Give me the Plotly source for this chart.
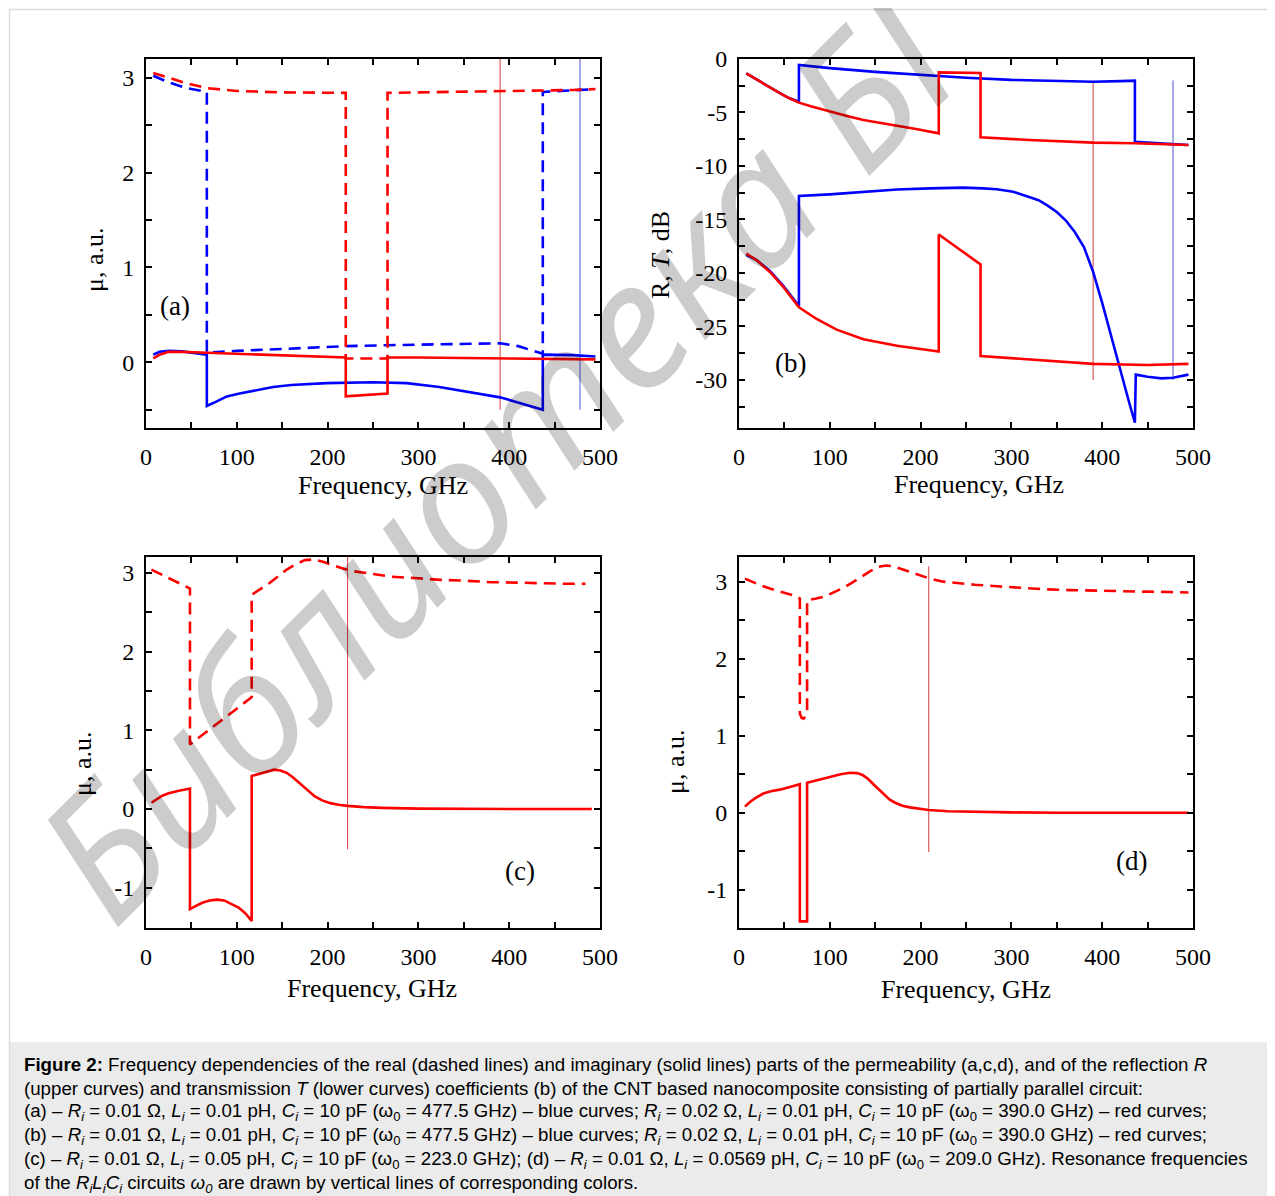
import plotly.graph_objects as go

# The page body keeps a default 8 px margin, so the figure is sized to fill the
# window after it and every position below is given in window pixels.
OFF = 8
W, H = 1275 - OFF, 1196 - OFF

# ---------------- data ----------------
freq_ticks = [0, 100, 200, 300, 400, 500]

# (a) permeability, blue (w0 = 477.5 GHz) and red (w0 = 390 GHz)
a_blue_re_x = [8, 25, 45, 67, 67, 100, 150, 220, 266, 320, 360, 390, 410, 425, 437, 437, 460, 480, 495]
a_blue_re_y = [3.02, 2.95, 2.89, 2.85, 0.10, 0.12, 0.14, 0.17, 0.18, 0.19, 0.20, 0.20, 0.17, 0.13, 0.09, 2.85, 2.86, 2.87, 2.88]
a_red_re_x = [8, 25, 45, 67, 100, 150, 220, 220, 266, 266, 300, 350, 400, 437, 470, 495]
a_red_re_y = [3.05, 3.00, 2.94, 2.89, 2.86, 2.845, 2.84, 0.04, 0.04, 2.84, 2.845, 2.85, 2.855, 2.86, 2.87, 2.88]
a_blue_im_x = [8, 15, 25, 40, 67, 67, 74, 80, 89, 103, 120, 140, 160, 177, 199, 250, 287, 323, 360, 390, 437, 437, 470, 495]
a_blue_im_y = [0.08, 0.11, 0.12, 0.115, 0.08, -0.46, -0.43, -0.40, -0.36, -0.33, -0.295, -0.26, -0.24, -0.23, -0.22, -0.21, -0.22, -0.26, -0.32, -0.37, -0.50, 0.08, 0.075, 0.06]
a_red_im_x = [8, 15, 25, 40, 67, 100, 150, 220, 220, 266, 266, 300, 400, 495]
a_red_im_y = [0.04, 0.08, 0.11, 0.11, 0.10, 0.09, 0.075, 0.05, -0.36, -0.33, 0.05, 0.05, 0.04, 0.03]
a_w0_red = 390.0
a_w0_blue = 478.0
a_vline_y = [3.2, -0.5]

# (b) reflection R (upper) and transmission T (lower), dB
b_blue_R_x = [8, 15, 26.6, 35, 45, 55, 66, 66, 100, 150, 200, 250, 300, 350, 390, 420, 436, 436, 460, 495]
b_blue_R_y = [-1.34, -1.7, -2.27, -2.7, -3.2, -3.65, -4.0, -0.56, -0.85, -1.2, -1.5, -1.75, -1.95, -2.08, -2.12, -2.07, -2.02, -7.75, -7.85, -8.04]
b_red_R_x = [8, 15, 26.6, 35, 45, 55, 66, 80, 100, 120, 137, 155, 174, 195, 220, 220, 266, 266, 320, 390, 436, 495]
b_red_R_y = [-1.34, -1.7, -2.27, -2.7, -3.2, -3.65, -4.08, -4.45, -4.92, -5.35, -5.7, -5.95, -6.26, -6.55, -6.95, -1.25, -1.31, -7.32, -7.57, -7.82, -7.88, -8.04]
b_blue_T_x = [8, 19.4, 34, 48.8, 66, 66, 100, 137, 174, 210, 247, 269, 284, 302, 320, 330, 340, 350, 360, 370, 380, 390, 400, 410, 420, 430, 436, 437, 450, 465, 478, 495]
b_blue_T_y = [-18.3, -18.8, -19.8, -21.2, -23.1, -12.8, -12.65, -12.4, -12.2, -12.09, -12.02, -12.09, -12.18, -12.4, -12.87, -13.2, -13.7, -14.3, -15.1, -16.2, -17.6, -19.9, -22.8, -26.0, -29.2, -32.2, -34.0, -29.5, -29.7, -29.85, -29.8, -29.5]
b_red_T_x = [8, 19.4, 34, 48.8, 66, 85.5, 107.5, 137, 174, 220, 220, 266, 266, 320, 390, 450, 495]
b_red_T_y = [-18.2, -18.8, -19.9, -21.3, -23.2, -24.3, -25.3, -26.2, -26.8, -27.35, -16.4, -19.2, -27.76, -28.1, -28.5, -28.6, -28.5]
b_w0_red = 390.0
b_w0_blue = 478.0
b_vline_y = [-2.0, -30.0]

# (c) permeability, w0 = 223 GHz
c_re_x = [6, 20, 35, 48.4, 48.4, 116.4, 116.4, 125, 135, 145, 155, 165, 175, 185, 195, 205, 215, 228, 250, 270, 300, 324, 350, 380, 410, 434, 460, 484]
c_re_y = [3.04, 2.96, 2.88, 2.80, 0.82, 1.42, 2.72, 2.78, 2.86, 2.95, 3.04, 3.11, 3.16, 3.17, 3.14, 3.10, 3.06, 3.02, 2.98, 2.95, 2.93, 2.91, 2.90, 2.88, 2.875, 2.865, 2.86, 2.86]
c_im_x = [6, 12, 18, 25, 35, 48.4, 48.4, 55, 62, 70, 78, 86, 94, 102, 109, 116.4, 116.4, 125, 133, 141, 148, 155, 162, 170, 178, 186, 194, 203, 212, 222, 240, 260, 300, 350, 400, 491]
c_im_y = [0.08, 0.13, 0.17, 0.20, 0.23, 0.26, -1.27, -1.23, -1.19, -1.16, -1.15, -1.16, -1.20, -1.25, -1.32, -1.42, 0.42, 0.45, 0.48, 0.50, 0.49, 0.46, 0.40, 0.32, 0.23, 0.16, 0.11, 0.075, 0.055, 0.04, 0.025, 0.015, 0.005, 0.0, 0.0, 0.0]
c_w0 = 222.0
c_vline_y = [3.2, -0.51]

# (d) permeability, w0 = 209 GHz
d_re_x = [6.6, 20, 34, 50, 63.5, 67, 67, 69, 71, 73, 75, 75, 85, 95, 105, 115, 125, 135, 145, 153, 162, 170, 180, 190, 200, 210, 225, 240, 260, 284, 310, 339, 365, 394, 420, 449, 475, 495]
d_re_y = [3.04, 2.97, 2.91, 2.86, 2.81, 2.78, 1.29, 1.23, 1.22, 1.25, 1.30, 2.76, 2.78, 2.81, 2.86, 2.92, 2.99, 3.07, 3.14, 3.19, 3.21, 3.20, 3.16, 3.11, 3.07, 3.04, 3.00, 2.98, 2.96, 2.94, 2.92, 2.90, 2.89, 2.88, 2.875, 2.87, 2.865, 2.86]
d_im_x = [6.6, 12, 18, 26.8, 35, 45, 55, 67, 67, 75, 75, 85, 100, 112, 122, 130, 136, 142, 148, 154, 160, 166, 172, 180, 188, 200, 209, 230, 260, 300, 350, 495]
d_im_y = [0.08, 0.14, 0.19, 0.25, 0.28, 0.30, 0.33, 0.37, -1.41, -1.41, 0.39, 0.42, 0.47, 0.50, 0.52, 0.515, 0.49, 0.44, 0.37, 0.30, 0.23, 0.17, 0.13, 0.09, 0.07, 0.045, 0.035, 0.02, 0.01, 0.005, 0.0, 0.0]
d_w0 = 209.0
d_vline_y = [3.2, -0.51]

RED = "#ff0000"
BLUE = "#0000ff"
VRED = "rgb(215,60,60)"
VBLUE = "rgb(80,80,225)"
DASH = "12px,7px"
LW = 2.6

fig = go.Figure()


def add(x, y, color, ax, dash="solid", width=LW):
    fig.add_trace(go.Scatter(
        x=x, y=y, mode="lines",
        line=dict(color=color, width=width, dash=dash),
        xaxis="x" + ax, yaxis="y" + ax, showlegend=False, hoverinfo="skip"))


# (a)
add([a_w0_red] * 2, a_vline_y, VRED, "", width=1)
add([a_w0_blue] * 2, a_vline_y, VBLUE, "", width=1)
add(a_blue_re_x, a_blue_re_y, BLUE, "", DASH)
add(a_red_re_x, a_red_re_y, RED, "", DASH)
add(a_blue_im_x, a_blue_im_y, BLUE, "")
add(a_red_im_x, a_red_im_y, RED, "")
# (b)
add([b_w0_red] * 2, b_vline_y, VRED, "2", width=1)
add([b_w0_blue] * 2, b_vline_y, VBLUE, "2", width=1)
add(b_blue_R_x, b_blue_R_y, BLUE, "2")
add(b_red_R_x, b_red_R_y, RED, "2")
add(b_blue_T_x, b_blue_T_y, BLUE, "2")
add(b_red_T_x, b_red_T_y, RED, "2")
# (c)
add([c_w0] * 2, c_vline_y, VRED, "3", width=1)
add(c_re_x, c_re_y, RED, "3", DASH)
add(c_im_x, c_im_y, RED, "3")
# (d)
add([d_w0] * 2, d_vline_y, VRED, "4", width=1)
add(d_re_x, d_re_y, RED, "4", DASH)
add(d_im_x, d_im_y, RED, "4")

TICKFONT = dict(family="Liberation Serif", size=24, color="black")


def axis(domain, rng, tickvals, ticktext, minor_dtick, anchor, is_x):
    d = dict(domain=domain, range=rng, tickvals=tickvals, ticktext=ticktext,
             showline=True, linecolor="black", linewidth=2, mirror="allticks",
             ticks="inside", ticklen=6, tickwidth=1.5, tickcolor="black",
             showgrid=False, zeroline=False, tickfont=TICKFONT, anchor=anchor,
             automargin=False,
             ticklabelstandoff=6 if is_x else 5,
             minor=dict(ticks="inside", ticklen=6, tickwidth=1.5, tickcolor="black",
                        tick0=0, dtick=minor_dtick, showgrid=False))
    return d


def px_x(p):
    return (p - OFF) / W


def px_y(p):
    return 1 - (p - OFF) / H


def xd(p0, p1):
    return [px_x(p0), px_x(p1)]


def yd(p_top, p_bot):
    return [px_y(p_bot), px_y(p_top)]


xt = [str(v) for v in freq_ticks]
mu_vals = [-1, 0, 1, 2, 3]
mu_text = ["-1", "0", "1", "2", "3"]
db_vals = [0, -5, -10, -15, -20, -25, -30]
db_text = ["0", "-5", "-10", "-15", "-20", "-25", "-30"]

fig.update_layout(
    xaxis=axis(xd(146, 600), [0, 500], freq_ticks, xt, 50, "y", True),
    yaxis=axis(yd(59, 428), [-0.693, 3.197], [0, 1, 2, 3], ["0", "1", "2", "3"], 0.5, "x", False),
    xaxis2=axis(xd(739, 1193), [0, 500], freq_ticks, xt, 50, "y2", True),
    yaxis2=axis(yd(59, 428), [-34.49, 0], db_vals, db_text, 2.5, "x2", False),
    xaxis3=axis(xd(146, 600), [0, 500], freq_ticks, xt, 50, "y3", True),
    yaxis3=axis(yd(557, 928), [-1.51, 3.2], mu_vals, mu_text, 0.5, "x3", False),
    xaxis4=axis(xd(739, 1193), [0, 500], freq_ticks, xt, 50, "y4", True),
    yaxis4=axis(yd(557, 928), [-1.496, 3.32], mu_vals, mu_text, 0.5, "x4", False),
)

annotations = []


def txt(text, px, py, size=26, angle=0, family="Liberation Serif", color="black", xanchor="center"):
    annotations.append(dict(text=text, x=px_x(px), y=px_y(py), xref="paper", yref="paper",
                            showarrow=False, textangle=angle, xanchor=xanchor, yanchor="middle",
                            font=dict(family=family, size=size, color=color)))


# axis titles
txt("Frequency, GHz", 383, 485)
txt("Frequency, GHz", 979, 484)
txt("Frequency, GHz", 372, 988)
txt("Frequency, GHz", 966, 989)
txt("μ, a.u.", 94, 260, angle=-90)
txt("R, <i>T</i>, dB", 660, 255, angle=-90)
txt("μ, a.u.", 82, 764, angle=-90)
txt("μ, a.u.", 675, 762, angle=-90)
# panel labels
txt("(a)", 175, 306, size=27)
txt("(b)", 790, 363, size=27)
txt("(c)", 520, 871, size=27)
txt("(d)", 1131, 861, size=27)

# caption
Ri = "<i>R<sub>i</sub></i>"
Li = "<i>L<sub>i</sub></i>"
Ci = "<i>C<sub>i</sub></i>"
w0 = "ω<sub>0</sub>"
cap_lines = [
    "<b>Figure 2:</b> Frequency dependencies of the real (dashed lines) and imaginary (solid lines) parts of the permeability (a,c,d), and of the reflection <i>R</i>",
    "(upper curves) and transmission <i>T</i> (lower curves) coefficients (b) of the CNT based nanocomposite consisting of partially parallel circuit:",
    f"(a) – {Ri} = 0.01 Ω, {Li} = 0.01 pH, {Ci} = 10 pF ({w0} = 477.5 GHz) – blue curves; {Ri} = 0.02 Ω, {Li} = 0.01 pH, {Ci} = 10 pF ({w0} = 390.0 GHz) – red curves;",
    f"(b) – {Ri} = 0.01 Ω, {Li} = 0.01 pH, {Ci} = 10 pF ({w0} = 477.5 GHz) – blue curves; {Ri} = 0.02 Ω, {Li} = 0.01 pH, {Ci} = 10 pF ({w0} = 390.0 GHz) – red curves;",
    f"(c) – {Ri} = 0.01 Ω, {Li} = 0.05 pH, {Ci} = 10 pF ({w0} = 223.0 GHz); (d) – {Ri} = 0.01 Ω, {Li} = 0.0569 pH, {Ci} = 10 pF ({w0} = 209.0 GHz). Resonance frequencies",
    f"of the <i>R<sub>i</sub>L<sub>i</sub>C<sub>i</sub></i> circuits <i>ω<sub>0</sub></i> are drawn by vertical lines of corresponding colors.",
]
for i, line in enumerate(cap_lines):
    txt(line, 22, 1064 + 24 * i, size=18.7, family="Liberation Sans", xanchor="left")

# watermark
txt("Библиотека БГ", 509, 440, size=176, angle=-45, family="Noto Sans",
    color="rgba(0,0,0,0.2)")
annotations[-1]["font"]["style"] = "italic"

shapes = [
    dict(type="rect", xref="paper", yref="paper", x0=px_x(10), x1=1.0, y0=0, y1=px_y(1042),
         fillcolor="#ebebeb", line=dict(width=0), layer="below"),
    dict(type="rect", xref="paper", yref="paper", x0=px_x(9.5), x1=1.01, y0=-0.01, y1=px_y(9.5),
         fillcolor="rgba(0,0,0,0)", line=dict(color="#dcdcdc", width=1.5), layer="below"),
]

fig.update_layout(width=W, height=H, margin=dict(l=0, r=0, t=0, b=0, autoexpand=False),
                  paper_bgcolor="white", plot_bgcolor="white",
                  annotations=annotations, shapes=shapes, showlegend=False)

fig.write_html("out.html")
